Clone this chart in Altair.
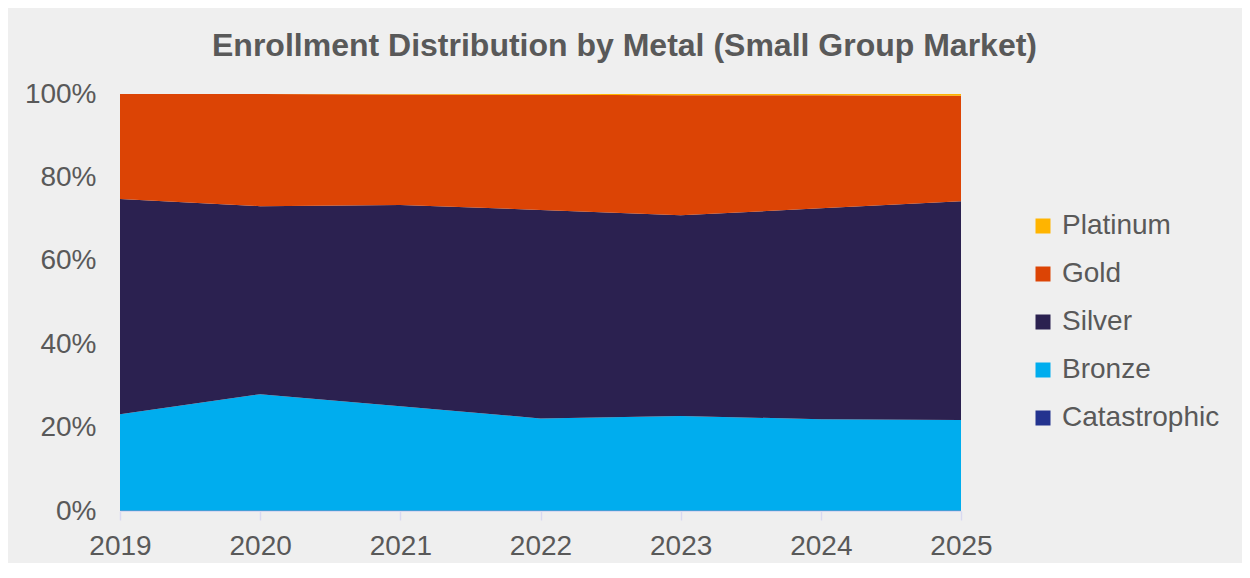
import altair as alt
import pandas as pd

years = [2019, 2020, 2021, 2022, 2023, 2024, 2025]
metals = ["Platinum", "Gold", "Silver", "Bronze", "Catastrophic"]
colors = ["#FFB400", "#DC4405", "#2B2150", "#00ADEE", "#23338F"]

catastrophic = [0.1, 0.1, 0.1, 0.1, 0.1, 0.1, 0.1]
bronze = [23.1, 27.9, 25.0, 22.1, 22.7, 21.9, 21.7]
silver = [51.6, 45.1, 48.3, 50.0, 48.1, 50.6, 52.5]
gold = [25.2, 26.9, 26.5, 27.6, 28.8, 27.1, 25.3]
platinum = [0.0, 0.0, 0.1, 0.2, 0.3, 0.3, 0.4]

series = {
    "Catastrophic": catastrophic,
    "Bronze": bronze,
    "Silver": silver,
    "Gold": gold,
    "Platinum": platinum,
}
stack_order = ["Catastrophic", "Bronze", "Silver", "Gold", "Platinum"]

rows = []
for m in stack_order:
    for y, v in zip(years, series[m]):
        rows.append({"year": y, "metal": m, "share": v / 100.0, "ord": stack_order.index(m)})
df = pd.DataFrame(rows)

grey = "#595959"
font = "Liberation Sans"

chart = (
    alt.Chart(df)
    .mark_area(interpolate="linear", opacity=1)
    .encode(
        x=alt.X(
            "year:Q",
            scale=alt.Scale(domain=[2019, 2025], nice=False, zero=False),
            axis=alt.Axis(
                values=years,
                format="d",
                title=None,
                grid=False,
                domain=True,
                domainColor="#d9d9f0",
                tickColor="#d9d9f0",
                tickSize=9,
                tickWidth=1.5,
                labelFontSize=28,
                labelColor=grey,
                labelFont=font,
                labelPadding=12,
                labelFlush=False,
                labelOverlap=False,
            ),
        ),
        y=alt.Y(
            "share:Q",
            stack="zero",
            scale=alt.Scale(domain=[0, 1], nice=False),
            axis=alt.Axis(
                values=[0, 0.2, 0.4, 0.6, 0.8, 1.0],
                format=".0%",
                title=None,
                grid=False,
                domain=False,
                ticks=False,
                labelFontSize=28,
                labelColor=grey,
                labelFont=font,
                labelPadding=24,
            ),
        ),
        color=alt.Color(
            "metal:N",
            scale=alt.Scale(domain=metals, range=colors),
            legend=alt.Legend(
                title=None,
                orient="none",
                legendX=909,
                legendY=118,
                symbolType="square",
                symbolSize=225,
                symbolStrokeWidth=0,
                symbolOpacity=1,
                labelFontSize=28,
                labelColor=grey,
                labelFont=font,
                labelOffset=5,
                rowPadding=20,
                padding=0,
            ),
        ),
        order=alt.Order("ord:Q", sort="ascending"),
    )
    .properties(
        width=841,
        height=417,
        padding={"left": 112, "top": 86, "right": 281, "bottom": 52},
        autosize=alt.AutoSizeParams(type="none"),
        title=alt.TitleParams(
            text="Enrollment Distribution by Metal (Small Group Market)",
            fontSize=32,
            fontWeight="bold",
            color=grey,
            font=font,
            anchor="middle",
            dx=84,
            offset=17,
        ),
    )
    .configure(background="#efefef")
    .configure_view(stroke=None)
)

chart.save("out.html", embed_options={"renderer": "svg", "actions": False})
